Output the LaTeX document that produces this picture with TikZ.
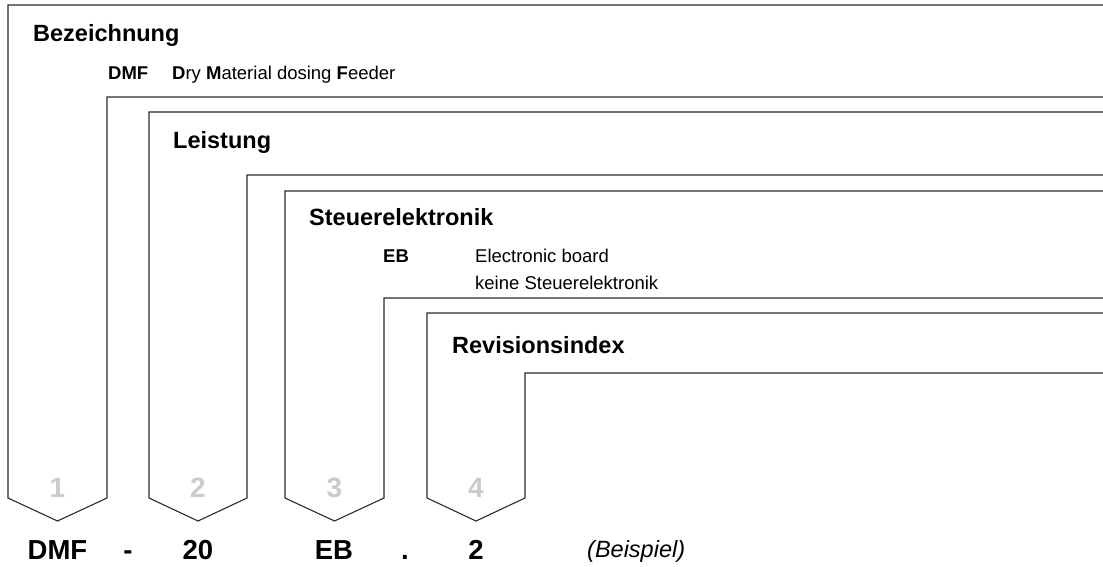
\documentclass[tikz,border=0pt]{standalone}
\usepackage{fontspec}
\setmainfont{Liberation Sans}
\definecolor{linegray}{HTML}{2B2B2B}
\definecolor{numgray}{HTML}{C8CBCF}
\tikzset{
  frame/.style={draw=linegray, line width=1.1pt, line join=miter},
  bigtitle/.style={inner sep=0pt, anchor=base west, font=\bfseries\fontsize{23.5}{28}\selectfont},
  smalltext/.style={inner sep=0pt, anchor=base west, font=\fontsize{18.5}{22}\selectfont},
  smallbold/.style={smalltext, font=\bfseries\fontsize{18.5}{22}\selectfont},
  numlabel/.style={inner sep=0pt, anchor=base, text=numgray, font=\bfseries\fontsize{28}{32}\selectfont},
  codelabel/.style={inner sep=0pt, anchor=base, font=\bfseries\fontsize{27.5}{32}\selectfont},
  examplelabel/.style={inner sep=0pt, anchor=base west, font=\itshape\fontsize{23.5}{28}\selectfont}
}
\begin{document}
\begin{tikzpicture}[x=1pt,y=-1pt]
\useasboundingbox (0,0) rectangle (1103,566);
% brackets
\draw[frame] (1103,5) -- (8,5) -- (8,498) -- (57.5,521) -- (107,498) -- (107,97) -- (1103,97);
\draw[frame] (1103,112) -- (149,112) -- (149,498) -- (198,521) -- (247,498) -- (247,175) -- (1103,175);
\draw[frame] (1103,191) -- (285,191) -- (285,498) -- (334.5,521) -- (384,498) -- (384,298) -- (1103,298);
\draw[frame] (1103,313) -- (427,313) -- (427,498) -- (476,521) -- (525,498) -- (525,373) -- (1103,373);
% titles
\node[bigtitle] (t1) at (33,41.7) {Bezeichnung};
\node[smallbold] (c1) at (108,79) {DMF};
\node[smalltext] (d1) at (172,79) {\textbf{D}ry \textbf{M}aterial dosing \textbf{F}eeder};
\node[bigtitle] (t2) at (173,148) {Leistung};
\node[bigtitle] (t3) at (309,225) {Steuerelektronik};
\node[smallbold] (c3) at (383,262) {EB};
\node[smalltext] (d3a) at (475,262) {Electronic board};
\node[smalltext] (d3b) at (475,289.3) {keine Steuerelektronik};
\node[bigtitle] (t4) at (452,353.3) {Revisionsindex};
% numbers
\node[numlabel] (n1) at (57.5,497) {1};
\node[numlabel] (n2) at (198,497) {2};
\node[numlabel] (n3) at (334.5,497) {3};
\node[numlabel] (n4) at (476,497) {4};
% example code
\node[codelabel] (e1) at (57.5,559) {DMF};
\node[codelabel] (s1) at (128,559) {-};
\node[codelabel] (e2) at (198,559) {20};
\node[codelabel] (e3) at (334,559) {EB};
\node[codelabel] (s2) at (405,559) {.};
\node[codelabel] (e4) at (476,559) {2};
\node[examplelabel] (bsp) at (587,557) {(Beispiel)};
\end{tikzpicture}
\end{document}
